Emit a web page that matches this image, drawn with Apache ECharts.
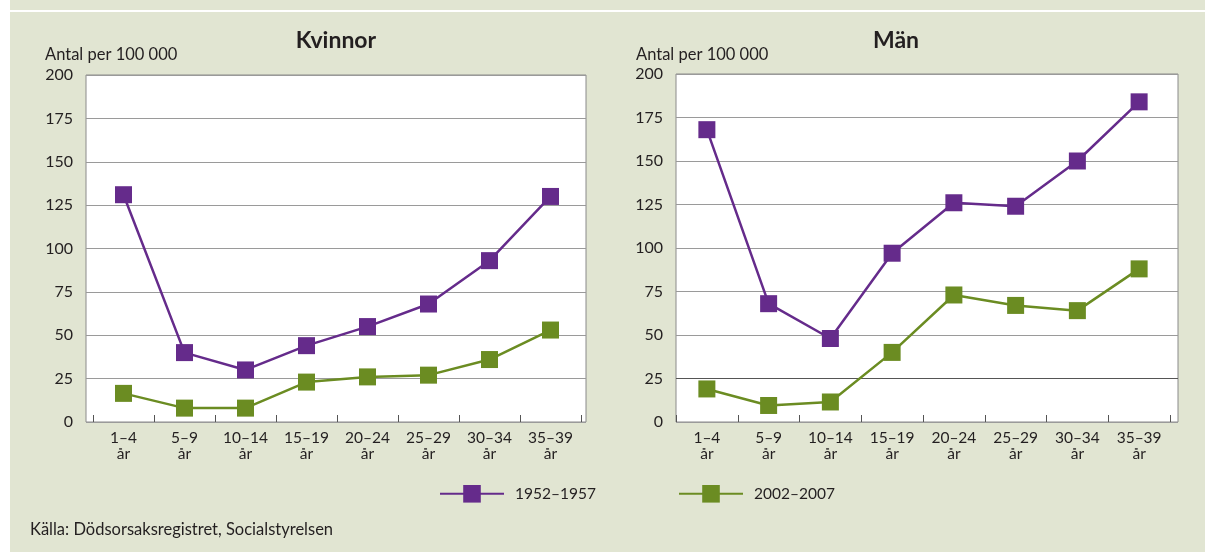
<!DOCTYPE html>
<html>
<head>
<meta charset="utf-8">
<script src="https://cdn.jsdelivr.net/npm/echarts@6/dist/echarts.min.js"></script>
<style>
  body { margin: 0; background: #fff; }
  #bg { position: absolute; left: 10px; top: 0; width: 1195px; height: 552px; background: #e1e5d2; }
  #topline { position: absolute; left: 10px; top: 10px; width: 1195px; height: 2px; background: #fff; }
  #main { position: absolute; left: 0; top: 0; width: 1205px; height: 552px; }
</style>
</head>
<body>
<div id="bg"></div>
<div id="topline"></div>
<div id="main"></div>
<script>
// åldersgrupper
var ageGroups = ['1–4', '5–9', '10–14', '15–19', '20–24', '25–29', '30–34', '35–39'];
var yTicks = [0, 25, 50, 75, 100, 125, 150, 175, 200];

// Kvinnor, antal per 100 000
var women1952 = [131, 40, 30, 44, 55, 68, 93, 130];
var women2002 = [16.5, 8, 8, 23, 26, 27, 36, 53];
// Män, antal per 100 000
var men1952 = [168, 68, 48, 97, 126, 124, 150, 184];
var men2002 = [19, 9.5, 11.5, 40, 73, 67, 64, 88];

var periods = ['1952–1957', '2002–2007'];
var colors = ['#652b8b', '#6b8c22'];

var font = 'Lato, "Open Sans", sans-serif';
var textColor = '#231f20';

var chart = echarts.init(document.getElementById('main'));

function boxYAxis(idx, gridColors) {
  return {
    gridIndex: idx, type: 'value', min: yTicks[0], max: yTicks[yTicks.length - 1], interval: 25,
    axisLine: { show: false }, axisTick: { show: false },
    axisLabel: { margin: 13, fontSize: 16, color: textColor, fontFamily: font },
    splitLine: { show: true, lineStyle: { color: gridColors, width: 1 } }
  };
}
function dataXAxis(idx) {
  return {
    gridIndex: idx, type: 'category', boundaryGap: true,
    data: ageGroups.map(function (a) { return a + '\når'; }),
    axisLine: { show: false },
    axisTick: { show: true, inside: true, length: 7, lineStyle: { color: '#555', width: 1 } },
    axisLabel: { margin: 8, fontSize: 15.5, lineHeight: 16, color: textColor, fontFamily: font, interval: 0 }
  };
}
function lineSeries(name, values, color, axisIdx) {
  return {
    name: name, type: 'line', data: values,
    xAxisIndex: axisIdx, yAxisIndex: axisIdx,
    symbol: 'rect', symbolSize: 17,
    lineStyle: { color: color, width: 2.5 },
    itemStyle: { color: color },
    emphasis: { disabled: true },
    z: 3
  };
}

var grey = '#9a9a9a';
option = {
  animation: false,
  grid: [
    { left: 86, top: 75, width: 500, height: 347, show: true, backgroundColor: '#fff', borderColor: '#8a8a8a', borderWidth: 1 },
    { left: 93, top: 75, width: 488, height: 347 },
    { left: 676, top: 74, width: 502, height: 348, show: true, backgroundColor: '#fff', borderColor: '#8a8a8a', borderWidth: 1 },
    { left: 676, top: 74, width: 494, height: 348 }
  ],
  xAxis: [
    { gridIndex: 0, type: 'value', min: 0, max: 1, show: false },
    dataXAxis(1),
    { gridIndex: 2, type: 'value', min: 0, max: 1, show: false },
    dataXAxis(3)
  ],
  yAxis: [
    boxYAxis(0, grey),
    { gridIndex: 1, type: 'value', min: 0, max: 200, show: false },
    boxYAxis(2, [grey, '#555', grey, grey, grey, grey, grey, grey, grey]),
    { gridIndex: 3, type: 'value', min: 0, max: 200, show: false }
  ],
  legend: [
    {
      data: [periods[0]], left: 439, top: 485, padding: 0,
      itemWidth: 64, itemHeight: 22, selectedMode: false,
      textStyle: { fontSize: 15.5, color: textColor, fontFamily: font, padding: [0, 0, 0, 6] }
    },
    {
      data: [periods[1]], left: 678, top: 485, padding: 0,
      itemWidth: 64, itemHeight: 22, selectedMode: false,
      textStyle: { fontSize: 15.5, color: textColor, fontFamily: font, padding: [0, 0, 0, 6] }
    }
  ],
  graphic: [
    { type: 'text', x: 336, y: 41, style: { text: 'Kvinnor', textAlign: 'center', textVerticalAlign: 'middle', font: 'bold 23px ' + font, fill: textColor } },
    { type: 'text', x: 896, y: 41, style: { text: 'Män', textAlign: 'center', textVerticalAlign: 'middle', font: 'bold 23px ' + font, fill: textColor } },
    { type: 'text', x: 45, y: 55, style: { text: 'Antal per 100 000', textVerticalAlign: 'middle', font: '16.5px ' + font, fill: textColor } },
    { type: 'text', x: 636, y: 55, style: { text: 'Antal per 100 000', textVerticalAlign: 'middle', font: '16.5px ' + font, fill: textColor } },
    { type: 'text', x: 30, y: 530, style: { text: 'Källa: Dödsorsaksregistret, Socialstyrelsen', textVerticalAlign: 'middle', font: '16.5px ' + font, fill: textColor } }
  ],
  series: [
    lineSeries(periods[0], women1952, colors[0], 1),
    lineSeries(periods[1], women2002, colors[1], 1),
    lineSeries(periods[0], men1952, colors[0], 3),
    lineSeries(periods[1], men2002, colors[1], 3)
  ]
};

chart.setOption(option);
</script>
</body>
</html>
